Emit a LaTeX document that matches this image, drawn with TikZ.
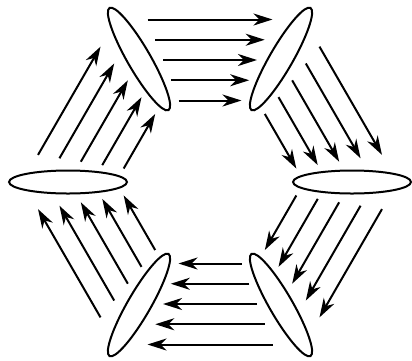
\documentclass[tikz,border=0pt]{standalone}
\usetikzlibrary{arrows.meta}
\begin{document}
\begin{tikzpicture}[x=1pt,y=-1pt,
  lens/.style={line width=2pt},
  flow/.style={line width=2pt,-{Stealth[length=19pt,width=12pt,inset=6pt]}}]
  \useasboundingbox (0,0) rectangle (412,360);
  \begin{scope}[shift={(210,182)}]
    % six lenses, pointing away from the centre
    \foreach \a in {0,60,...,300}
      \draw[lens, rotate=\a] (142,0) ellipse [x radius=59, y radius=11.5];
    % five arrows from each lens to the next one
    \foreach \a in {0,60,...,300}
      \foreach \i in {-2,...,2}
        \draw[flow, rotate=\a] ({-47+7.75*\i},{-122+20.25*\i}) -- ({47-7.75*\i},{-122+20.25*\i});
  \end{scope}
\end{tikzpicture}
\end{document}
